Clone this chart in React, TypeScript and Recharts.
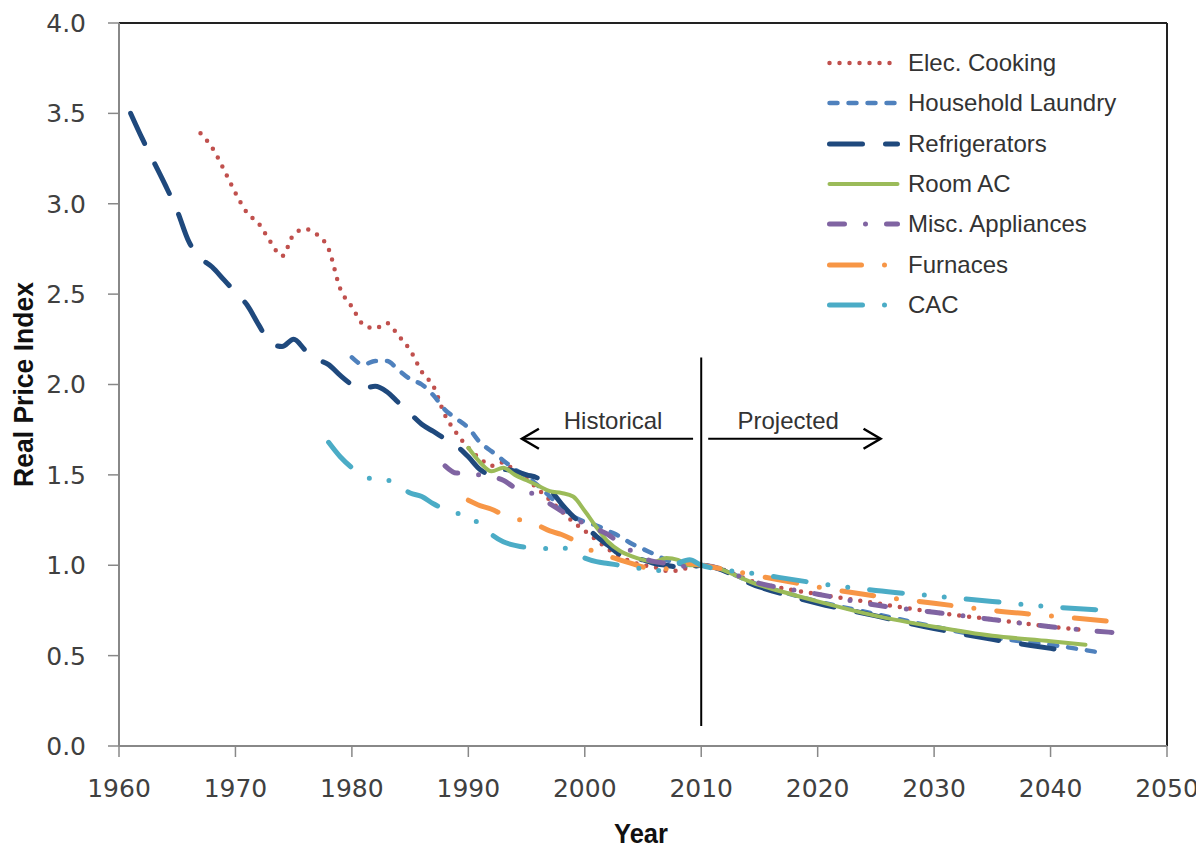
import {
  LineChart,
  Line,
  XAxis,
  YAxis,
  Legend,
  ReferenceLine,
} from "recharts";

const X_TICKS = [1960, 1970, 1980, 1990, 2000, 2010, 2020, 2030, 2040, 2050];
const Y_TICKS = [0, 0.5, 1, 1.5, 2, 2.5, 3, 3.5, 4];

// [year, real price index]
const ELEC_COOKING: [number, number][] = [
  [1967, 3.39], [1968, 3.31], [1969, 3.19], [1970, 3.06], [1971, 2.95],
  [1972, 2.89], [1973, 2.79], [1974, 2.71], [1975, 2.83], [1976, 2.86],
  [1977, 2.83], [1978, 2.75], [1979, 2.53], [1980, 2.43], [1981, 2.33],
  [1982, 2.31], [1983, 2.34], [1984, 2.27], [1985, 2.19], [1986, 2.07],
  [1987, 1.99], [1988, 1.83], [1989, 1.73], [1990, 1.65], [1991, 1.59],
  [1992, 1.55], [1993, 1.57], [1994, 1.52], [1995, 1.48], [1996, 1.42],
  [1997, 1.36], [1998, 1.3], [1999, 1.24], [2000, 1.19], [2001, 1.14],
  [2002, 1.09], [2003, 1.05], [2004, 1.02], [2005, 1.0], [2006, 0.99],
  [2007, 0.97], [2008, 0.97], [2009, 0.99], [2010, 1.0], [2015, 0.9],
  [2020, 0.84], [2025, 0.79], [2030, 0.74], [2035, 0.7], [2040, 0.66],
  [2043, 0.64],
];

const HOUSEHOLD_LAUNDRY: [number, number][] = [
  [1980, 2.15], [1981, 2.11], [1982, 2.13], [1983, 2.13], [1984, 2.08],
  [1985, 2.03], [1986, 2.0], [1987, 1.94], [1988, 1.86], [1989, 1.81],
  [1990, 1.76], [1991, 1.68], [1992, 1.63], [1993, 1.58], [1994, 1.53],
  [1995, 1.49], [1996, 1.44], [1997, 1.38], [1998, 1.32], [1999, 1.27],
  [2000, 1.24], [2001, 1.22], [2002, 1.19], [2003, 1.16], [2004, 1.12],
  [2005, 1.09], [2006, 1.06], [2007, 1.03], [2008, 1.01], [2009, 1.0],
  [2010, 1.0], [2015, 0.89], [2020, 0.8], [2025, 0.73], [2030, 0.66],
  [2035, 0.6], [2040, 0.56], [2044, 0.52],
];

const REFRIGERATORS: [number, number][] = [
  [1961, 3.5], [1962, 3.36], [1963, 3.23], [1964, 3.1], [1965, 2.96],
  [1966, 2.79], [1967, 2.7], [1968, 2.65], [1969, 2.58], [1970, 2.51],
  [1971, 2.44], [1972, 2.33], [1973, 2.23], [1974, 2.21], [1975, 2.25],
  [1976, 2.19], [1977, 2.14], [1978, 2.11], [1979, 2.05], [1980, 2.0],
  [1981, 1.98], [1982, 1.99], [1983, 1.96], [1984, 1.9], [1985, 1.84],
  [1986, 1.78], [1987, 1.74], [1988, 1.7], [1989, 1.66], [1990, 1.6],
  [1991, 1.53], [1992, 1.5], [1993, 1.53], [1994, 1.52], [1995, 1.5],
  [1996, 1.48], [1997, 1.42], [1998, 1.34], [1999, 1.27], [2000, 1.22],
  [2001, 1.16], [2002, 1.11], [2003, 1.06], [2004, 1.04], [2005, 1.03],
  [2006, 1.01], [2007, 1.0], [2008, 0.99], [2009, 0.99], [2010, 1.0],
  [2015, 0.88], [2020, 0.79], [2025, 0.72], [2030, 0.65], [2035, 0.59],
  [2040, 0.54], [2042, 0.52],
];

const ROOM_AC: [number, number][] = [
  [1990, 1.65], [1991, 1.57], [1992, 1.52], [1993, 1.54], [1994, 1.5],
  [1995, 1.47], [1996, 1.44], [1997, 1.41], [1998, 1.4], [1999, 1.38],
  [2000, 1.3], [2001, 1.21], [2002, 1.13], [2003, 1.08], [2004, 1.05],
  [2005, 1.03], [2006, 1.02], [2007, 1.04], [2008, 1.03], [2009, 1.0],
  [2010, 1.0], [2015, 0.89], [2020, 0.8], [2025, 0.72], [2030, 0.66],
  [2035, 0.61], [2040, 0.58], [2043, 0.56],
];

const MISC_APPLIANCES: [number, number][] = [
  [1988, 1.55], [1989, 1.51], [1990, 1.51], [1991, 1.5], [1992, 1.49],
  [1993, 1.47], [1994, 1.43], [1995, 1.41], [1996, 1.38], [1997, 1.34],
  [1998, 1.3], [1999, 1.26], [2000, 1.23], [2001, 1.2], [2002, 1.17],
  [2003, 1.12], [2004, 1.08], [2005, 1.04], [2006, 1.02], [2007, 1.01],
  [2008, 0.99], [2009, 1.0], [2010, 1.0], [2015, 0.9], [2020, 0.84],
  [2025, 0.78], [2030, 0.74], [2035, 0.7], [2040, 0.66], [2045, 0.63],
  [2047, 0.62],
];

const FURNACES: [number, number][] = [
  [1990, 1.36], [1991, 1.33], [1992, 1.31], [1993, 1.28], [1994, 1.26],
  [1995, 1.24], [1996, 1.22], [1997, 1.19], [1998, 1.17], [1999, 1.14],
  [2000, 1.1], [2001, 1.07], [2002, 1.05], [2003, 1.03], [2004, 1.01],
  [2005, 0.99], [2006, 0.98], [2007, 0.98], [2008, 0.99], [2009, 1.01],
  [2010, 1.0], [2015, 0.94], [2020, 0.88], [2025, 0.83], [2030, 0.79],
  [2035, 0.75], [2040, 0.72], [2045, 0.69],
];

const CAC: [number, number][] = [
  [1978, 1.68], [1979, 1.6], [1980, 1.54], [1981, 1.5], [1982, 1.47],
  [1983, 1.47], [1984, 1.44], [1985, 1.4], [1986, 1.38], [1987, 1.34],
  [1988, 1.31], [1989, 1.29], [1990, 1.26], [1991, 1.23], [1992, 1.17],
  [1993, 1.13], [1994, 1.11], [1995, 1.1], [1996, 1.1], [1997, 1.09],
  [1998, 1.1], [1999, 1.07], [2000, 1.04], [2001, 1.02], [2002, 1.01],
  [2003, 1.0], [2004, 0.99], [2005, 0.98], [2006, 0.97], [2007, 0.98],
  [2008, 1.01], [2009, 1.03], [2010, 1.0], [2015, 0.95], [2020, 0.9],
  [2025, 0.86], [2030, 0.83], [2035, 0.8], [2040, 0.77], [2045, 0.75],
];

const SERIES = [
  { name: "Elec. Cooking", points: ELEC_COOKING, color: "#C0504D", width: 4.5, dash: "0 10" },
  { name: "Household Laundry", points: HOUSEHOLD_LAUNDRY, color: "#4F81BD", width: 4.5, dash: "8 11" },
  { name: "Refrigerators", points: REFRIGERATORS, color: "#1F497D", width: 5, dash: "33 23" },
  { name: "Room AC", points: ROOM_AC, color: "#9BBB59", width: 4, dash: undefined },
  { name: "Misc. Appliances", points: MISC_APPLIANCES, color: "#8064A2", width: 5, dash: "15 21 0 21" },
  { name: "Furnaces", points: FURNACES, color: "#F79646", width: 5, dash: "32 23 0 23" },
  { name: "CAC", points: CAC, color: "#4BACC6", width: 5, dash: "33 22 0 20 0 22" },
];

const TEXT_FONT = "'Liberation Sans', Arial, sans-serif";
const TICK_FONT = "'DejaVu Sans', Verdana, sans-serif";

function Arrow(props: any) {
  const { x1 = 0, y1 = 0, x2 = 0, y2 = 0, text } = props;
  const dir = Math.sign(x2 - x1);
  return (
    <g>
      <line x1={x1} y1={y1} x2={x2} y2={y2} stroke="#000" strokeWidth={2} />
      <polyline
        points={`${x2 - dir * 17},${y2 - 10} ${x2},${y2} ${x2 - dir * 17},${y2 + 10}`}
        fill="none"
        stroke="#000"
        strokeWidth={2.5}
      />
      <text
        x={x1 + dir * 80}
        y={y1 - 10}
        textAnchor="middle"
        fontFamily={TEXT_FONT}
        fontSize={24}
        fill="#333"
      >
        {text}
      </text>
    </g>
  );
}

function LegendBox() {
  return (
    <div style={{ fontFamily: TEXT_FONT, fontSize: 24, color: "#333" }}>
      {SERIES.map((s) => (
        <div key={s.name} style={{ display: "flex", alignItems: "center", height: 40.3 }}>
          <svg width={73} height={10} style={{ marginRight: 8 }}>
            <line
              x1={2.5}
              y1={5}
              x2={70.5}
              y2={5}
              stroke={s.color}
              strokeWidth={s.width}
              strokeDasharray={s.dash}
              strokeLinecap="round"
            />
          </svg>
          <span style={{ whiteSpace: "nowrap" }}>{s.name}</span>
        </div>
      ))}
    </div>
  );
}

// bold, horizontally squeezed axis title (stands in for a condensed face)
function AxisTitle({ x, y, text, length, rotate }: any) {
  return (
    <text
      x={x}
      y={y}
      transform={rotate ? `rotate(-90, ${x}, ${y})` : undefined}
      textAnchor="middle"
      fontFamily={TEXT_FONT}
      fontWeight="bold"
      fontSize={28}
      textLength={length}
      lengthAdjust="spacingAndGlyphs"
      fill="#111"
    >
      {text}
    </text>
  );
}

export default function App() {
  return (
    <div style={{ width: 1190, height: 842 }}>
      <LineChart width={1190} height={842} margin={{ top: 15, right: 31, bottom: 0, left: 0 }}>
        <XAxis
          type="number"
          dataKey="year"
          domain={[1960, 2050]}
          ticks={X_TICKS}
          allowDataOverflow
          height={104}
          axisLine={{ stroke: "#888", strokeWidth: 2 }}
          tickLine={{ stroke: "#888", strokeWidth: 1.5 }}
          tickSize={11}
          tickMargin={22}
          tick={{ fill: "#404040", fontSize: 25, fontFamily: TICK_FONT }}
          label={{
            content: ({ viewBox }: any) => (
              <AxisTitle
                x={viewBox.x + viewBox.width / 2 - 2}
                y={viewBox.y + viewBox.height - 7}
                text="Year"
                length={54}
              />
            ),
          }}
        />
        <YAxis
          type="number"
          domain={[0, 4]}
          ticks={Y_TICKS}
          width={111}
          axisLine={{ stroke: "#888", strokeWidth: 2 }}
          tickLine={{ stroke: "#888", strokeWidth: 1.5 }}
          tickSize={11}
          tickMargin={22}
          tickFormatter={(v: number) => v.toFixed(1)}
          tick={{ fill: "#404040", fontSize: 25, fontFamily: TICK_FONT }}
          label={{
            content: ({ viewBox }: any) => (
              <AxisTitle
                x={25}
                y={viewBox.y + viewBox.height / 2}
                text="Real Price Index"
                length={205}
                rotate
              />
            ),
          }}
        />
        <ReferenceLine y={4} stroke="#222" strokeWidth={2} />
        <ReferenceLine x={2050} stroke="#222" strokeWidth={2} />
        {SERIES.map((s) => (
          <Line
            key={s.name}
            name={s.name}
            data={s.points.map(([year, value]) => ({ year, value }))}
            dataKey="value"
            type="monotone"
            stroke={s.color}
            strokeWidth={s.width}
            strokeDasharray={s.dash}
            strokeLinecap="round"
            dot={false}
            activeDot={false}
            isAnimationActive={false}
          />
        ))}
        <ReferenceLine
          segment={[{ x: 2010, y: 0.11 }, { x: 2010, y: 2.15 }]}
          stroke="#000"
          strokeWidth={2}
        />
        <ReferenceLine
          segment={[{ x: 2009.3, y: 1.7 }, { x: 1994.6, y: 1.7 }]}
          shape={(p: any) => <Arrow {...p} text="Historical" />}
        />
        <ReferenceLine
          segment={[{ x: 2010.6, y: 1.7 }, { x: 2025.4, y: 1.7 }]}
          shape={(p: any) => <Arrow {...p} text="Projected" />}
        />
        <Legend
          layout="horizontal"
          verticalAlign="middle"
          align="center"
          content={() => <LegendBox />}
          wrapperStyle={{ top: 35, left: 819, width: 340, right: "auto", bottom: "auto" }}
        />
      </LineChart>
    </div>
  );
}
